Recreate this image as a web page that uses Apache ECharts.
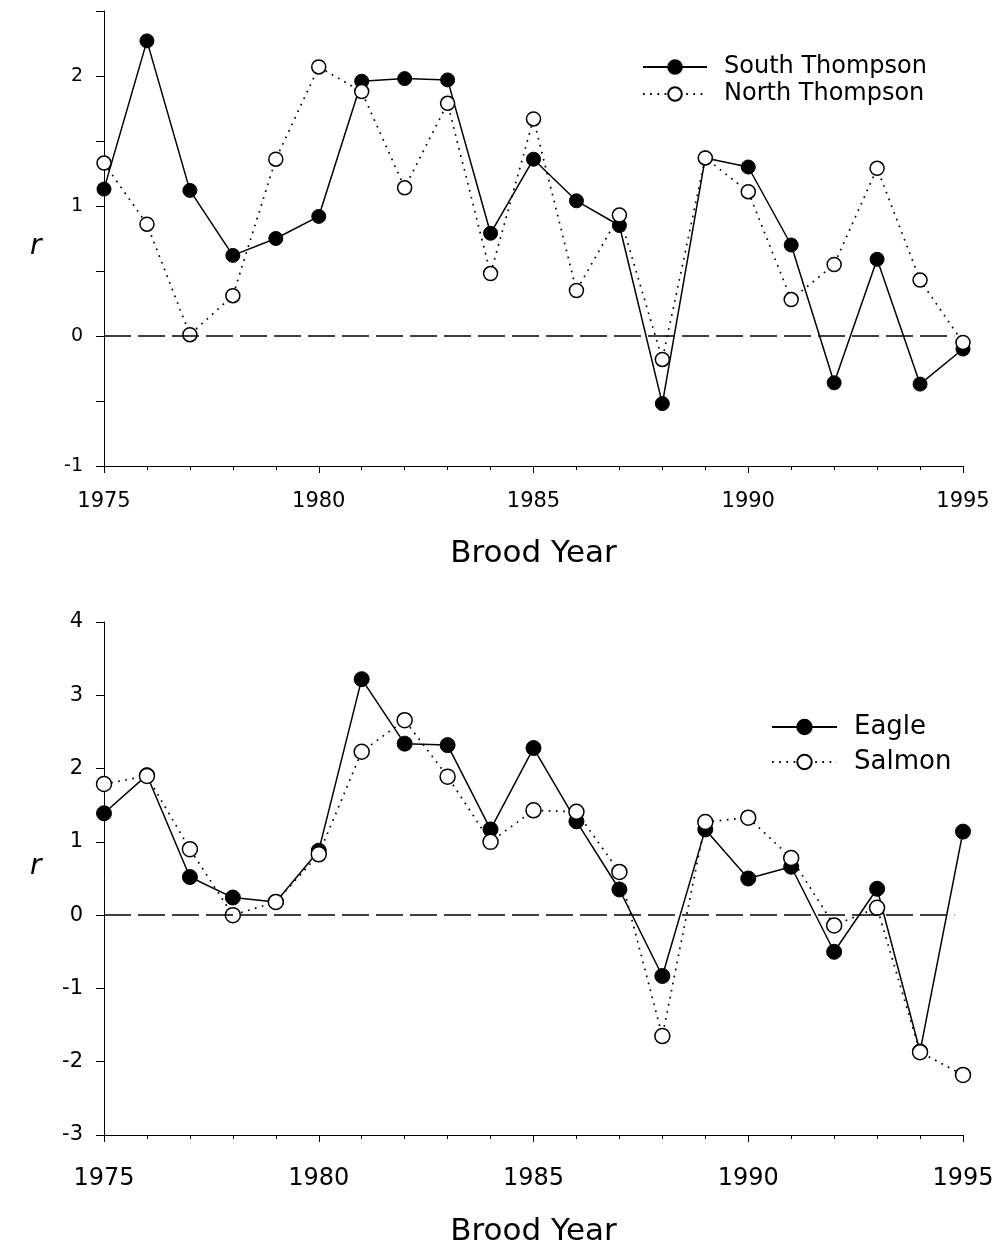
<!DOCTYPE html>
<html>
<head>
<meta charset="utf-8">
<script src="https://cdn.jsdelivr.net/npm/echarts@6/dist/echarts.min.js"></script>
<style>
html,body{margin:0;padding:0;background:#fff;}
#c{width:996px;height:1251px;}
</style>
</head>
<body>
<div id="c"></div>
<script>
const years = [1975,1976,1977,1978,1979,1980,1981,1982,1983,1984,1985,1986,1987,1988,1989,1990,1991,1992,1993,1994,1995];
const southThompson = [1.13,2.27,1.12,0.62,0.75,0.92,1.96,1.98,1.97,0.79,1.36,1.04,0.85,-0.52,1.37,1.30,0.70,-0.36,0.59,-0.37,-0.10];
const northThompson = [1.33,0.86,0.01,0.31,1.36,2.07,1.88,1.14,1.79,0.48,1.67,0.35,0.93,-0.18,1.37,1.11,0.28,0.55,1.29,0.43,-0.05];
const eagle = [1.39,1.91,0.52,0.24,0.18,0.88,3.22,2.34,2.32,1.17,2.28,1.28,0.35,-0.83,1.17,0.50,0.66,-0.50,0.36,-1.86,1.14];
const salmon = [1.79,1.90,0.90,0.00,0.18,0.83,2.23,2.66,1.89,1.00,1.43,1.41,0.59,-1.65,1.27,1.33,0.78,-0.14,0.10,-1.87,-2.18];
const seriesNames = ['South Thompson','North Thompson','Eagle','Salmon'];
const xLabelTitle = 'Brood Year';
const yLabelTitle = 'r';

const FONT = 'DejaVu Sans';
const pair = (ys) => years.map((y,i)=>[y, ys[i]]);

const axisLineStyle = {color:'#000', width:1};

function xAxisCfg(gridIndex, labelSize, labelMargin, nameSize, nameGap){
  return {
    type:'value', gridIndex, min:1975, max:1995, interval:5,
    axisLine:{show:true, onZero:false, lineStyle:axisLineStyle},
    axisTick:{show:true, length:7, lineStyle:{color:'#000', width:1}},
    minorTick:{show:true, splitNumber:5, length:4, lineStyle:{color:'#000', width:1}},
    splitLine:{show:false},
    axisLabel:{fontFamily:FONT, fontSize:labelSize, color:'#000', margin:labelMargin,
      formatter:(v)=>String(v), showMinLabel:true, showMaxLabel:true},
    name:xLabelTitle, nameLocation:'middle', nameGap:nameGap,
    nameTextStyle:{fontFamily:FONT, fontSize:nameSize, color:'#000'}
  };
}
function yAxisCfg(gridIndex, min, max, interval, labelSize){
  return {
    type:'value', gridIndex, min, max, interval,
    axisLine:{show:true, onZero:false, lineStyle:axisLineStyle},
    axisTick:{show:true, length:8, lineStyle:{color:'#000', width:1}},
    splitLine:{show:false},
    axisLabel:{fontFamily:FONT, fontSize:labelSize, color:'#000', margin:21,
      formatter:(v)=> Number.isInteger(v) ? String(v) : ''}
  };
}

function solidSeries(name, data, xi, size){
  return {
    name, type:'line', xAxisIndex:xi, yAxisIndex:xi, data,
    symbol:'circle', symbolSize:size, showSymbol:true,
    lineStyle:{color:'#000', width:1.5, type:'solid'},
    itemStyle:{color:'#000', borderColor:'#000', borderWidth:1},
    z:2, animation:false
  };
}
function openSeries(name, data, xi, size){
  return {
    name, type:'line', xAxisIndex:xi, yAxisIndex:xi, data,
    symbol:'circle', symbolSize:size, showSymbol:true,
    lineStyle:{color:'#000', width:1.7, type:[1.7,5.5]},
    itemStyle:{color:'#fff', borderColor:'#000', borderWidth:1.5},
    z:3, animation:false
  };
}
function zeroLine(xi){
  return {
    type:'line', xAxisIndex:xi, yAxisIndex:xi, data:[], silent:true, z:1,
    markLine:{
      silent:true, symbol:['none','none'], animation:false, label:{show:false},
      lineStyle:{color:'#000', width:1.6, type:[27,7]},
      data:[[{coord:[1975,0]},{coord:[1994.8,0]}]]
    }
  };
}
function yTitle(cy){
  return {type:'text', left:30, top:cy-17,
    style:{text:yLabelTitle, font:'italic 28px "DejaVu Sans"', fill:'#000'}};
}

const chart = echarts.init(document.getElementById('c'), null, {renderer:'canvas'});
chart.setOption({
  backgroundColor:'#fff',
  animation:false,
  grid:[
    {left:104, right:33, top:11, height:455, outerBoundsMode:'none', containLabel:false},
    {left:104, right:33, top:622, height:513, outerBoundsMode:'none', containLabel:false}
  ],
  xAxis:[ xAxisCfg(0, 21, 25, 31, 72), xAxisCfg(1, 24, 32, 31, 81) ],
  yAxis:[ yAxisCfg(0, -1, 2.5, 0.5, 19), yAxisCfg(1, -3, 4, 1, 21) ],
  graphic:[ yTitle(250), yTitle(870) ],
  legend:[
    {data:[seriesNames[0], seriesNames[1]], orient:'vertical', left:642, top:55, padding:0,
     itemWidth:64, itemHeight:17, itemGap:3,
     textStyle:{fontFamily:FONT, fontSize:24, color:'#000', padding:[0,0,0,12]}},
    {data:[seriesNames[2], seriesNames[3]], orient:'vertical', left:771, top:714, padding:0,
     itemWidth:65, itemHeight:18, itemGap:9,
     textStyle:{fontFamily:FONT, fontSize:26, color:'#000', padding:[0,0,0,12]}}
  ],
  series:[
    zeroLine(0),
    solidSeries(seriesNames[0], pair(southThompson), 0, 14),
    openSeries(seriesNames[1], pair(northThompson), 0, 14),
    zeroLine(1),
    solidSeries(seriesNames[2], pair(eagle), 1, 15),
    openSeries(seriesNames[3], pair(salmon), 1, 15)
  ]
});
</script>
</body>
</html>
